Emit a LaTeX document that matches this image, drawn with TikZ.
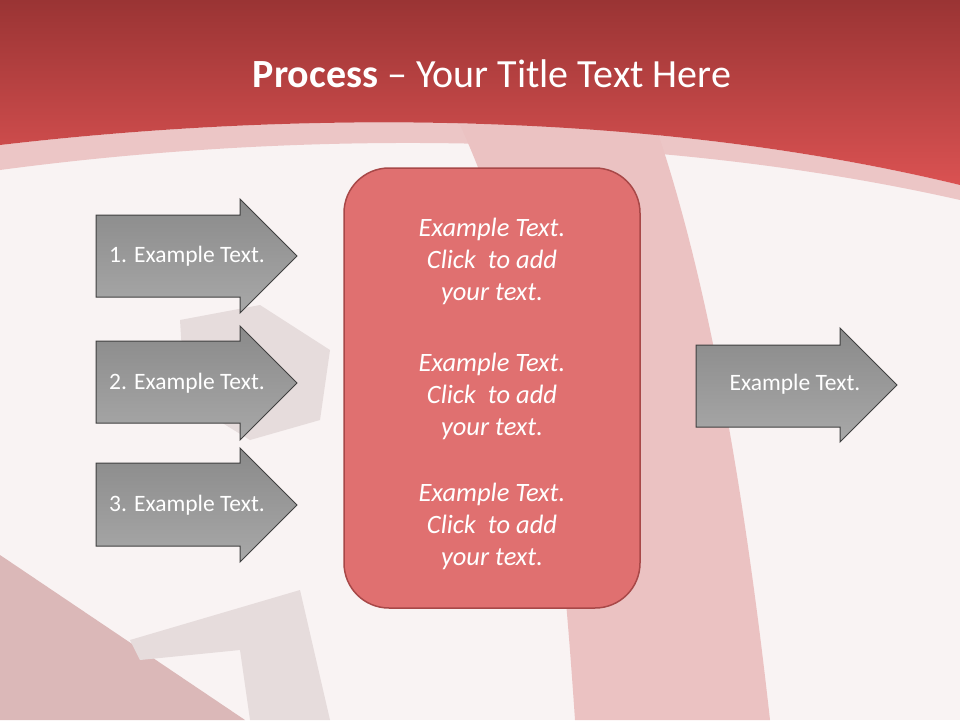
\documentclass[tikz,border=0pt]{standalone}
\usepackage{fontspec}
\setmainfont{Carlito}
\definecolor{bg}{HTML}{F9F3F3}
\definecolor{redtop}{HTML}{9A3434}
\definecolor{redbot}{HTML}{DA5252}
\definecolor{pinkband}{HTML}{EBC2C2}
\definecolor{ghost}{HTML}{E6DCDC}
\definecolor{boxfill}{HTML}{E07070}
\definecolor{boxdraw}{HTML}{A84848}
\definecolor{arrtop}{HTML}{8A8A8A}
\definecolor{arrbot}{HTML}{A8A8A8}
\tikzset{
  arrowshape/.style={draw=black!75, line width=1pt, top color=arrtop, bottom color=arrbot},
  arrowtext/.style={text=white, font=\fontsize{23.5pt}{28pt}\selectfont},
  boxtext/.style={text=white, align=center, font=\itshape\fontsize{26.5pt}{32pt}\selectfont}
}
\begin{document}
\begin{tikzpicture}[x=1pt,y=-1pt]
\useasboundingbox (0,0) rectangle (960,720);
\fill[bg] (0,0) rectangle (960,720);
% pink diagonal band
\fill[pinkband] (460,125) .. controls (540,300) and (560,500) .. (575,720) -- (770,720) .. controls (740,450) and (700,250) .. (650,110) -- cycle;
% bottom-left triangle
\fill[pinkband!85!gray] (0,555) -- (245,720) -- (0,720) -- cycle;
% ghost figure shapes
\fill[ghost] (180,320) -- (260,305) -- (330,350) -- (320,420) -- (250,440) -- (185,400) -- cycle;
\fill[ghost] (130,640) -- (300,590) -- (330,720) -- (250,720) -- (240,650) -- (140,660) -- cycle;
% light band
\fill[pinkband, opacity=0.9] (0,145) .. controls (300,110) and (650,110) .. (960,185) -- (960,200) .. controls (650,130) and (300,130) .. (0,170) -- cycle;
% red banner
\shade[top color=redtop, bottom color=redbot] (0,0) -- (960,0) -- (960,185) .. controls (650,110) and (300,110) .. (0,145) -- cycle;
\node[text=white, font=\fontsize{40pt}{48pt}\selectfont] (title) at (492,74) {\textbf{Process} -- Your Title Text Here};
% arrows
\path[arrowshape] (96,215) -- (240,215) -- (240,199) -- (297,256) -- (240,313) -- (240,297) -- (96,297) -- cycle;
\path[arrowshape] (96,341) -- (240,341) -- (240,326) -- (297,383) -- (240,440) -- (240,423) -- (96,423) -- cycle;
\path[arrowshape] (96,463) -- (240,463) -- (240,448) -- (297,505) -- (240,562) -- (240,546) -- (96,546) -- cycle;
\path[arrowshape] (696,345) -- (840,345) -- (840,328) -- (897,385) -- (840,442) -- (840,427) -- (696,427) -- cycle;
\node[arrowtext] (a1) at (187,256) {1. Example Text.};
\node[arrowtext] (a2) at (187,383) {2. Example Text.};
\node[arrowtext] (a3) at (187,505) {3. Example Text.};
\node[arrowtext] (a4) at (795,384) {Example Text.};
% central box
\draw[boxdraw, line width=1.5pt, fill=boxfill, rounded corners=45pt] (344,168) rectangle (640,608);
\node[boxtext] (t1) at (492,261) {Example Text.\\Click~ to add\\your text.};
\node[boxtext] (t2) at (492,396) {Example Text.\\Click~ to add\\your text.};
\node[boxtext] (t3) at (492,526) {Example Text.\\Click~ to add\\your text.};
\end{tikzpicture}
\end{document}
